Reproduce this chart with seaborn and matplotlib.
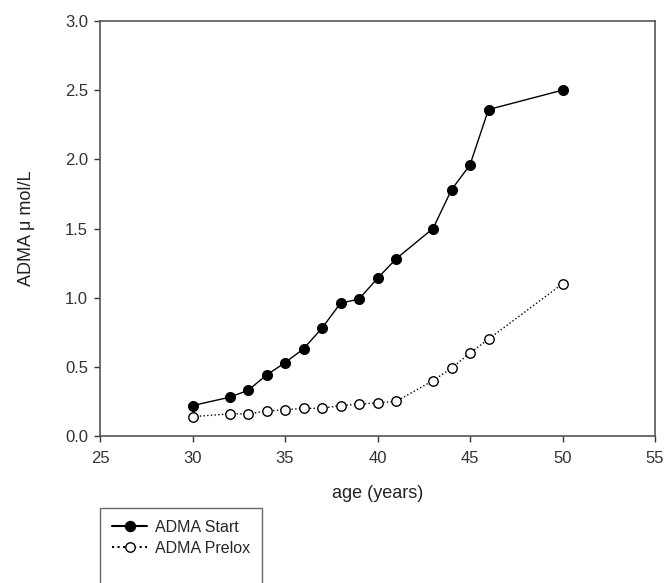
import matplotlib
matplotlib.use('Agg')
import matplotlib.pyplot as plt
from matplotlib.lines import Line2D
import seaborn as sns
import pandas as pd

# values
age = [30, 32, 33, 34, 35, 36, 37, 38, 39, 40, 41, 43, 44, 45, 46, 50]
adma_start = [0.22, 0.28, 0.33, 0.44, 0.53, 0.63, 0.78, 0.96, 0.99, 1.14, 1.28,
              1.50, 1.78, 1.96, 2.36, 2.50]
adma_prelox = [0.14, 0.16, 0.16, 0.18, 0.19, 0.20, 0.20, 0.22, 0.23, 0.24, 0.25,
               0.40, 0.49, 0.60, 0.70, 1.10]
xticks = [25, 30, 35, 40, 45, 50, 55]
yticks = [0.0, 0.5, 1.0, 1.5, 2.0, 2.5, 3.0]

df = pd.DataFrame({'age': age, 'start': adma_start, 'prelox': adma_prelox})

sns.set_style('ticks')
plt.rcParams['font.family'] = ['Liberation Sans', 'DejaVu Sans']

fig = plt.figure(figsize=(6.66, 5.83), dpi=100)
ax = fig.add_axes([100/666, 1 - 436/583, 555/666, 415/583])

sns.lineplot(data=df, x='age', y='prelox', ax=ax, color='black', linestyle=':',
             linewidth=1.0, marker='o', markersize=6.8, markerfacecolor='white',
             markeredgecolor='black', markeredgewidth=1.0)
sns.lineplot(data=df, x='age', y='start', ax=ax, color='black', linestyle='-',
             linewidth=1.0, marker='o', markersize=7.2, markerfacecolor='black',
             markeredgecolor='black')

ax.set_xlim(25, 55)
ax.set_ylim(0, 3.0)
ax.set_xticks(xticks)
ax.set_yticks(yticks)
ax.set_yticklabels([f'{v:.1f}' for v in yticks])
ax.tick_params(direction='out', length=4.5, width=1, labelsize=12, colors='#333333',
               top=False, right=False)
ax.tick_params(axis='x', pad=6)
ax.tick_params(axis='y', pad=4)
for s in ax.spines.values():
    s.set_color('#555555')
    s.set_linewidth(1.2)
    s.set_visible(True)

ax.set_xlabel('age (years)', fontsize=13, color='#222222', labelpad=14)
ax.set_ylabel('ADMA \u03bc mol/L', fontsize=13, color='#222222', labelpad=22)

# legend box runs off the bottom of the figure, so pad it with blank rows
handles = [
    Line2D([], [], color='black', linestyle='-', marker='o', markersize=7.2,
           markerfacecolor='black'),
    Line2D([], [], color='black', linestyle=':', marker='o', markersize=6.8,
           markerfacecolor='white'),
    Line2D([], [], color='none'),
    Line2D([], [], color='none'),
    Line2D([], [], color='none'),
]
labels = ['ADMA Start', 'ADMA Prelox', ' ', ' ', ' ']
fig.legend(handles, labels, loc='upper left', bbox_to_anchor=(100/666, 1 - 508/583),
           borderaxespad=0, frameon=True, fancybox=False, edgecolor='#444444',
           fontsize=11.5, handlelength=2.2, handletextpad=0.5, labelspacing=0.35,
           borderpad=0.75)

fig.savefig('out.png', dpi=100)
